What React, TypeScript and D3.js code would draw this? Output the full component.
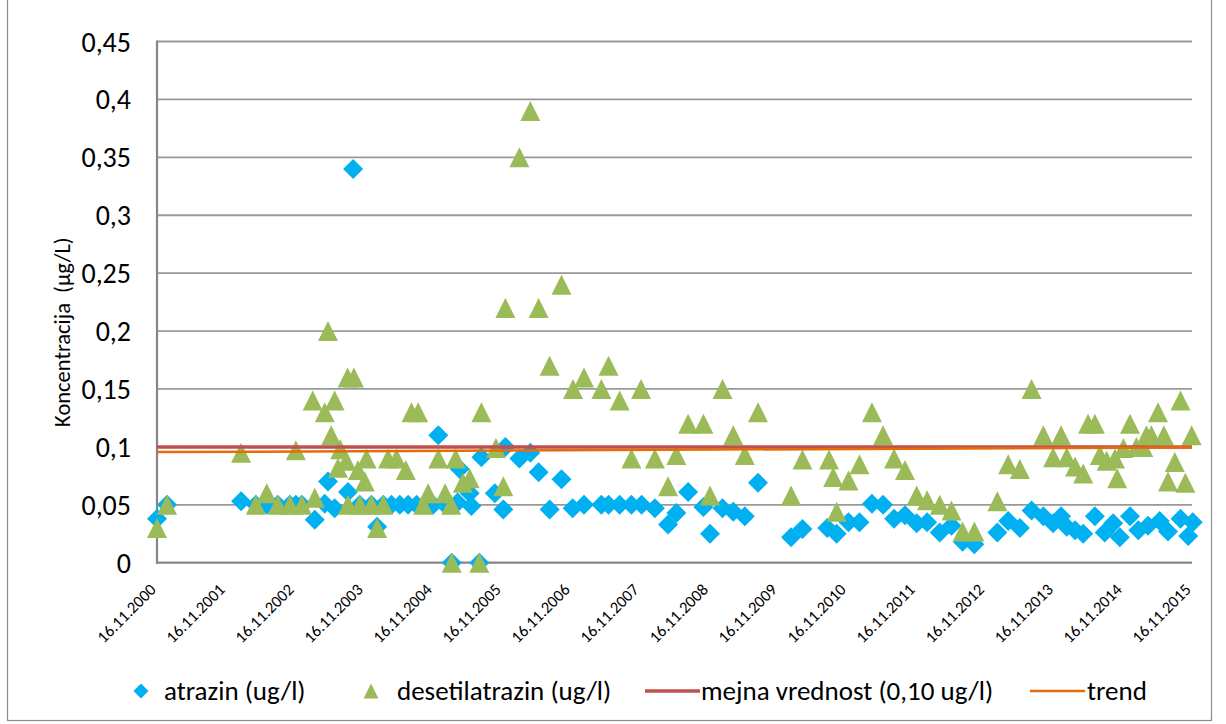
import React, { useEffect, useRef } from "react";
import * as d3 from "d3";

// sampling date, concentration (ug/l)
const atrazin: [string, number][] = [
  ["16.11.2000", 0.038], ["08.01.2001", 0.05], ["04.02.2002", 0.053], ["23.04.2002", 0.05],
  ["20.06.2002", 0.05], ["17.08.2002", 0.05], ["20.10.2002", 0.05], ["21.11.2002", 0.05],
  ["23.12.2002", 0.05], ["01.03.2003", 0.037], ["23.04.2003", 0.051], ["10.05.2003", 0.07],
  ["14.06.2003", 0.047], ["24.08.2003", 0.061], ["20.09.2003", 0.34], ["25.10.2003", 0.05],
  ["26.12.2003", 0.05], ["25.01.2004", 0.031], ["27.02.2004", 0.05], ["10.04.2004", 0.05],
  ["24.05.2004", 0.05], ["07.07.2004", 0.05], ["21.08.2004", 0.05], ["04.10.2004", 0.05],
  ["16.11.2004", 0.05], ["14.12.2004", 0.11], ["19.01.2005", 0.05], ["23.02.2005", 0],
  ["26.03.2005", 0.052], ["06.04.2005", 0.081], ["29.05.2005", 0.06], ["07.06.2005", 0.049],
  ["19.07.2005", 0], ["30.07.2005", 0.091], ["09.10.2005", 0.06], ["23.11.2005", 0.046],
  ["04.12.2005", 0.1], ["16.02.2006", 0.09], ["15.04.2006", 0.095], ["29.05.2006", 0.078],
  ["26.07.2006", 0.046], ["27.09.2006", 0.072], ["25.11.2006", 0.047], ["24.01.2007", 0.05],
  ["26.04.2007", 0.05], ["03.06.2007", 0.05], ["01.08.2007", 0.05], ["02.10.2007", 0.05],
  ["25.11.2007", 0.05], ["03.02.2008", 0.047], ["13.04.2008", 0.033], ["27.05.2008", 0.043],
  ["28.07.2008", 0.061], ["17.10.2008", 0.048], ["21.11.2008", 0.025], ["26.01.2009", 0.047],
  ["24.03.2009", 0.044], ["24.05.2009", 0.04], ["02.08.2009", 0.069], ["24.01.2010", 0.022],
  ["25.03.2010", 0.029], ["03.08.2010", 0.03], ["22.09.2010", 0.025], ["24.11.2010", 0.035],
  ["21.01.2011", 0.035], ["28.03.2011", 0.051], ["26.05.2011", 0.05], ["23.07.2011", 0.038],
  ["19.09.2011", 0.041], ["20.11.2011", 0.034], ["14.01.2012", 0.035], ["21.03.2012", 0.026],
  ["22.05.2012", 0.032], ["20.07.2012", 0.018], ["20.09.2012", 0.016], ["20.01.2013", 0.026],
  ["18.03.2013", 0.036], ["19.05.2013", 0.03], ["20.07.2013", 0.045], ["20.09.2013", 0.04],
  ["11.11.2013", 0.034], ["23.12.2013", 0.04], ["22.01.2014", 0.031], ["07.03.2014", 0.028],
  ["19.04.2014", 0.025], ["20.06.2014", 0.04], ["11.08.2014", 0.026], ["25.09.2014", 0.034],
  ["30.10.2014", 0.022], ["23.12.2014", 0.04], ["05.02.2015", 0.028], ["28.03.2015", 0.032],
  ["29.05.2015", 0.036], ["12.07.2015", 0.027], ["16.09.2015", 0.038], ["27.10.2015", 0.023],
  ["20.11.2015", 0.035],
];

const desetilatrazin: [string, number][] = [
  ["16.11.2000", 0.03], ["08.01.2001", 0.05], ["04.02.2002", 0.095], ["23.04.2002", 0.05],
  ["20.06.2002", 0.06], ["17.08.2002", 0.05], ["20.10.2002", 0.05], ["21.11.2002", 0.097],
  ["23.12.2002", 0.05], ["18.02.2003", 0.14], ["01.03.2003", 0.056], ["23.04.2003", 0.13],
  ["10.05.2003", 0.2], ["27.05.2003", 0.11], ["14.06.2003", 0.14], ["02.07.2003", 0.082],
  ["14.07.2003", 0.098], ["15.08.2003", 0.088], ["22.08.2003", 0.16], ["24.08.2003", 0.05],
  ["24.09.2003", 0.16], ["16.10.2003", 0.08], ["25.10.2003", 0.05], ["21.11.2003", 0.07],
  ["30.11.2003", 0.09], ["26.12.2003", 0.05], ["25.01.2004", 0.03], ["27.02.2004", 0.05],
  ["23.03.2004", 0.09], ["07.05.2004", 0.09], ["25.06.2004", 0.08], ["25.07.2004", 0.13],
  ["29.08.2004", 0.13], ["25.09.2004", 0.05], ["21.10.2004", 0.06], ["14.12.2004", 0.09],
  ["19.01.2005", 0.06], ["20.02.2005", 0.05], ["23.02.2005", 0], ["16.03.2005", 0.09],
  ["23.04.2005", 0.069], ["29.05.2005", 0.073], ["19.07.2005", 0], ["30.07.2005", 0.13],
  ["15.10.2005", 0.099], ["23.11.2005", 0.066], ["04.12.2005", 0.22], ["16.02.2006", 0.35],
  ["15.04.2006", 0.39], ["29.05.2006", 0.22], ["26.07.2006", 0.17], ["27.09.2006", 0.24],
  ["27.11.2006", 0.15], ["24.01.2007", 0.16], ["26.04.2007", 0.15], ["03.06.2007", 0.17],
  ["01.08.2007", 0.14], ["02.10.2007", 0.09], ["22.11.2007", 0.15], ["03.02.2008", 0.09],
  ["13.04.2008", 0.066], ["27.05.2008", 0.093], ["28.07.2008", 0.12], ["17.10.2008", 0.12],
  ["21.11.2008", 0.058], ["26.01.2009", 0.15], ["24.03.2009", 0.11], ["24.05.2009", 0.093],
  ["02.08.2009", 0.13], ["24.01.2010", 0.058], ["25.03.2010", 0.089], ["13.08.2010", 0.089],
  ["04.09.2010", 0.074], ["22.09.2010", 0.044], ["24.11.2010", 0.071], ["21.01.2011", 0.085],
  ["28.03.2011", 0.13], ["26.05.2011", 0.11], ["23.07.2011", 0.09], ["19.09.2011", 0.08],
  ["20.11.2011", 0.058], ["14.01.2012", 0.054], ["21.03.2012", 0.05], ["22.05.2012", 0.045],
  ["20.07.2012", 0.027], ["20.09.2012", 0.027], ["20.01.2013", 0.053], ["18.03.2013", 0.085],
  ["19.05.2013", 0.081], ["20.07.2013", 0.15], ["20.09.2013", 0.11], ["11.11.2013", 0.091],
  ["23.12.2013", 0.11], ["22.01.2014", 0.091], ["07.03.2014", 0.083], ["19.04.2014", 0.077],
  ["15.05.2014", 0.12], ["20.06.2014", 0.12], ["16.07.2014", 0.093], ["21.08.2014", 0.088],
  ["04.10.2014", 0.09], ["16.10.2014", 0.073], ["18.11.2014", 0.099], ["23.12.2014", 0.12],
  ["26.01.2015", 0.1], ["03.03.2015", 0.1], ["20.03.2015", 0.11], ["15.04.2015", 0.11],
  ["20.05.2015", 0.13], ["20.06.2015", 0.11], ["12.07.2015", 0.07], ["17.08.2015", 0.087],
  ["16.09.2015", 0.14], ["12.10.2015", 0.069], ["14.11.2015", 0.11],
];

const mejnaVrednost: [string, number][] = [["16.11.2000", 0.1], ["16.11.2015", 0.1]];
const trend: [string, number][] = [["16.11.2000", 0.0955], ["16.11.2015", 0.0995]];

const yTicks = [0, 0.05, 0.1, 0.15, 0.2, 0.25, 0.3, 0.35, 0.4, 0.45];
const xTicks = [
  "16.11.2000", "16.11.2001", "16.11.2002", "16.11.2003", "16.11.2004", "16.11.2005",
  "16.11.2006", "16.11.2007", "16.11.2008", "16.11.2009", "16.11.2010", "16.11.2011",
  "16.11.2012", "16.11.2013", "16.11.2014", "16.11.2015",
];
const legendLabels = ["atrazin (ug/l)", "desetilatrazin (ug/l)", "mejna vrednost (0,10 ug/l)", "trend"];

const FONT = "Carlito, Lato, 'Noto Sans', sans-serif";

const App = () => {
  const svgRef = useRef<SVGSVGElement | null>(null);
  const w = 1226;
  const h = 724;
  const m = { top: 41.5, right: 34, bottom: 161.3, left: 157 };

  useEffect(() => {
    const svg = d3.select(svgRef.current);
    svg.selectAll("*").remove();

    const parse = d3.timeParse("%d.%m.%Y");
    const x = d3
      .scaleTime()
      .domain([parse("16.11.2000")!, parse("16.11.2015")!])
      .range([m.left, w - m.right]);
    const y = d3.scaleLinear().domain([0, 0.45]).range([h - m.bottom, m.top]);
    const fmt = (v: number) => (v === 0 ? "0" : String(v).replace(".", ","));

    // chart border
    svg.append("rect")
      .attr("x", 7.5).attr("y", -2)
      .attr("width", 1204).attr("height", 722.5)
      .attr("fill", "white")
      .attr("stroke", "#8c8c8c")
      .attr("stroke-width", 1.2);

    // gridlines
    svg.append("g")
      .selectAll("line")
      .data(yTicks.filter((t) => t > 0))
      .enter()
      .append("line")
      .attr("x1", m.left).attr("x2", w - m.right)
      .attr("y1", (d) => y(d)).attr("y2", (d) => y(d))
      .attr("stroke", "#999999")
      .attr("stroke-width", 1.8);

    // axis lines
    svg.append("line")
      .attr("x1", m.left).attr("x2", m.left)
      .attr("y1", y(0.45) - 1).attr("y2", y(0) + 1)
      .attr("stroke", "#868686").attr("stroke-width", 2.2);
    svg.append("line")
      .attr("x1", m.left - 1).attr("x2", w - m.right)
      .attr("y1", y(0)).attr("y2", y(0))
      .attr("stroke", "#868686").attr("stroke-width", 2.2);

    // y tick labels
    svg.append("g")
      .selectAll("text")
      .data(yTicks)
      .enter()
      .append("text")
      .attr("x", 131)
      .attr("y", (d) => y(d))
      .attr("dy", "0.36em")
      .attr("text-anchor", "end")
      .style("font-family", FONT)
      .style("font-size", "28px")
      .style("fill", "#000")
      .text((d) => fmt(d));

    // x tick labels, rotated
    svg.append("g")
      .selectAll("text")
      .data(xTicks)
      .enter()
      .append("text")
      .attr("transform", (d) => `translate(${x(parse(d)!)}, ${y(0) + 28}) rotate(-45)`)
      .attr("text-anchor", "end")
      .style("font-family", FONT)
      .style("font-size", "16.5px")
      .style("fill", "#000")
      .text((d) => d);

    // y axis title
    svg.append("text")
      .attr("transform", `translate(70, ${(m.top + y(0)) / 2 + 30}) rotate(-90)`)
      .attr("text-anchor", "middle")
      .style("font-family", FONT)
      .style("font-size", "22.5px")
      .style("fill", "#000")
      .style("white-space", "pre")
      .text("Koncentracija  (\u00b5g/L)");

    const diamond = (s: number) => `M0,${-s}L${s},0L0,${s}L${-s},0Z`;
    const triangle = (s: number) => `M0,${-s}L${s},${s}L${-s},${s}Z`;

    // atrazin
    svg.append("g")
      .selectAll("path")
      .data(atrazin)
      .enter()
      .append("path")
      .attr("d", diamond(10))
      .attr("transform", (d) => `translate(${x(parse(d[0])!)}, ${y(d[1])})`)
      .attr("fill", "#00B0F0");

    // desetilatrazin
    svg.append("g")
      .selectAll("path")
      .data(desetilatrazin)
      .enter()
      .append("path")
      .attr("d", triangle(10))
      .attr("transform", (d) => `translate(${x(parse(d[0])!)}, ${y(d[1])})`)
      .attr("fill", "#9BBB59");

    const line = d3
      .line<[string, number]>()
      .x((d) => x(parse(d[0])!))
      .y((d) => y(d[1]));

    svg.append("path")
      .datum(mejnaVrednost)
      .attr("d", line)
      .attr("fill", "none")
      .attr("stroke", "#C0504D")
      .attr("stroke-width", 3.5);

    svg.append("path")
      .datum(trend)
      .attr("d", line)
      .attr("fill", "none")
      .attr("stroke", "#E46C0A")
      .attr("stroke-width", 2.5);

    // legend
    const ly = 691;
    const legend = svg.append("g")
      .style("font-family", FONT)
      .style("font-size", "27px")
      .style("fill", "#000");
    legend.append("path").attr("d", diamond(7.5)).attr("transform", `translate(141, ${ly})`).attr("fill", "#00B0F0");
    legend.append("text").attr("x", 164).attr("y", ly).attr("dy", "0.35em").text(legendLabels[0]);
    legend.append("path").attr("d", triangle(7.5)).attr("transform", `translate(371, ${ly})`).attr("fill", "#9BBB59");
    legend.append("text").attr("x", 397).attr("y", ly).attr("dy", "0.35em").text(legendLabels[1]);
    legend.append("line").attr("x1", 645).attr("x2", 700).attr("y1", ly).attr("y2", ly)
      .attr("stroke", "#C0504D").attr("stroke-width", 3.5);
    legend.append("text").attr("x", 701).attr("y", ly).attr("dy", "0.35em").text(legendLabels[2]);
    legend.append("line").attr("x1", 1030).attr("x2", 1085).attr("y1", ly).attr("y2", ly)
      .attr("stroke", "#E46C0A").attr("stroke-width", 2.5);
    legend.append("text").attr("x", 1087).attr("y", ly).attr("dy", "0.35em").text(legendLabels[3]);
  }, []);

  return (
    <svg
      ref={svgRef}
      width={w}
      height={h}
      style={{ position: "absolute", left: 0, top: 0, background: "white" }}
    ></svg>
  );
};

export default App;
